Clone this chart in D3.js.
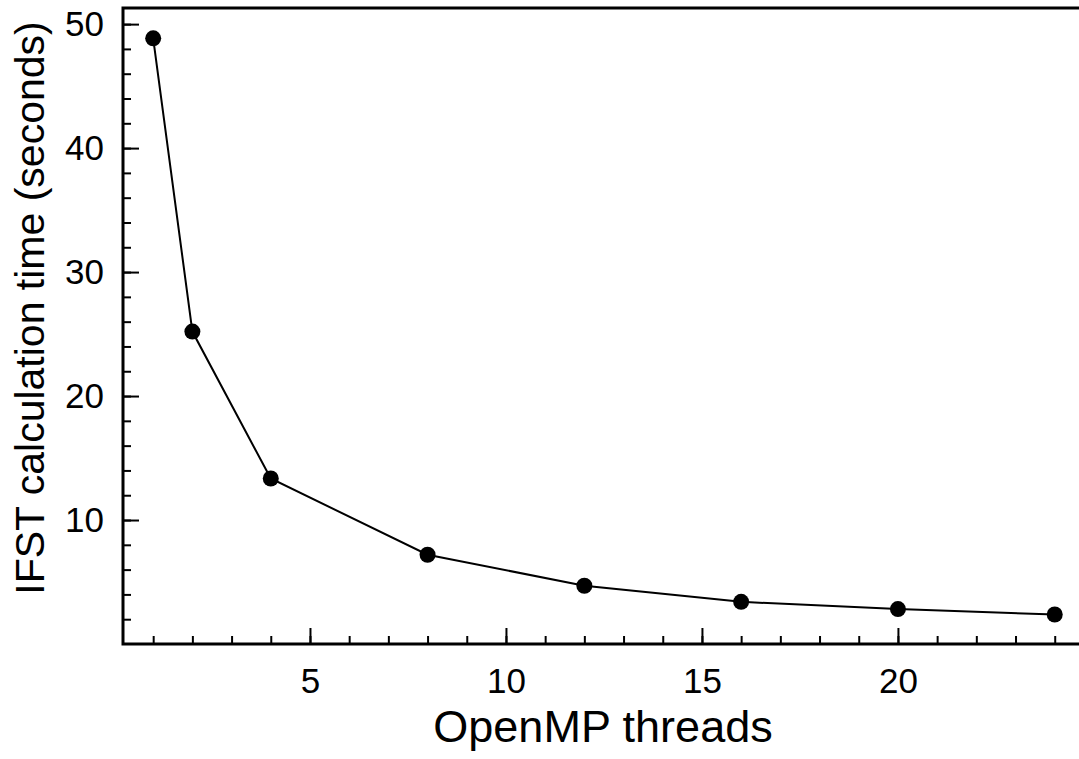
<!DOCTYPE html>
<html>
<head>
<meta charset="utf-8">
<script src="https://cdn.jsdelivr.net/npm/d3@7"></script>
<style>
	html, body { margin: 0; padding: 0; background: #fff; }
	svg { display: block; font-family: "Liberation Sans", Arial, Helvetica, sans-serif; }
</style>
</head>
<body>
<div id="chart"></div>
<script>
// DATA

// Number of OpenMP threads used for each run
const threads = [1, 2, 4, 8, 12, 16, 20, 24];
// IFST calculation time in seconds for each run
const seconds = [48.85, 25.2, 13.35, 7.2, 4.7, 3.4, 2.82, 2.38];
// Labelled (major) tick values
const xMajorTicks = [5, 10, 15, 20];
const yMajorTicks = [10, 20, 30, 40, 50];
// Unlabelled (minor) tick values
const xMinorTicks = d3.range(1, 25, 1);
const yMinorTicks = d3.range(2, 51, 2);

// Axis titles
const xTitle = "OpenMP threads";
const yTitle = "IFST calculation time (seconds)";

// LAYOUT
const width = 1079, height = 759;
// Plot edges in pixels (right edge falls outside the picture)
const plotLeft = 123, plotTop = 8, plotBottom = 644, plotRight = 1090;

let svg = d3.select("#chart")
	.append("svg")
	.attr("width", width)
	.attr("height", height);

// Scales
let x = d3.scaleLinear()
	.domain([0.23, 24.9])
	.range([plotLeft, plotRight]);

let y = d3.scaleLinear()
	.domain([0, 51.3])
	.range([plotBottom, plotTop]);

// Helper: draw an axis with ticks pointing into the plot
function drawAxis(axis, transform, cls) {
	let g = svg.append("g")
		.attr("class", cls)
		.attr("transform", transform)
		.call(axis);
	g.select(".domain").remove();
	g.selectAll(".tick line")
		.attr("stroke", "#000")
		.attr("stroke-width", 2);
	g.selectAll("text")
		.attr("fill", "#000")
		.attr("font-size", 35);
	return g;
}

// Minor ticks first, then major ticks on top
drawAxis(d3.axisBottom(x).tickValues(xMinorTicks).tickSize(-8).tickFormat(""),
	"translate(0," + plotBottom + ")", "x-minor");
drawAxis(d3.axisLeft(y).tickValues(yMinorTicks).tickSize(-8).tickFormat(""),
	"translate(" + plotLeft + ",0)", "y-minor");

drawAxis(d3.axisBottom(x).tickValues(xMajorTicks).tickSize(-16).tickPadding(24).tickFormat(d3.format("d")),
	"translate(0," + plotBottom + ")", "x-major");
drawAxis(d3.axisLeft(y).tickValues(yMajorTicks).tickSize(-16).tickPadding(19).tickFormat(d3.format("d")),
	"translate(" + plotLeft + ",0)", "y-major");

// Frame: top, left and bottom edges
svg.append("path")
	.attr("d", "M" + plotRight + "," + plotTop + "H" + plotLeft + "V" + plotBottom + "H" + plotRight)
	.attr("fill", "none")
	.attr("stroke", "#000")
	.attr("stroke-width", 3);

// Line through the points
let points = threads.map((t, i) => [t, seconds[i]]);

svg.append("path")
	.datum(points)
	.attr("fill", "none")
	.attr("stroke", "#000")
	.attr("stroke-width", 2)
	.attr("d", d3.line()
		.x(d => x(d[0]))
		.y(d => y(d[1])));

// Markers
svg.selectAll("circle.pt")
	.data(points)
	.enter()
	.append("circle")
	.attr("class", "pt")
	.attr("cx", d => x(d[0]))
	.attr("cy", d => y(d[1]))
	.attr("r", 8)
	.attr("fill", "#000");

// Axis titles
svg.append("text")
	.attr("x", 603)
	.attr("y", 742)
	.attr("text-anchor", "middle")
	.attr("font-size", 45)
	.attr("fill", "#000")
	.text(xTitle);

svg.append("text")
	.attr("transform", "translate(44,308) rotate(-90)")
	.attr("text-anchor", "middle")
	.attr("font-size", 41)
	.attr("fill", "#000")
	.text(yTitle);
</script>
</body>
</html>
